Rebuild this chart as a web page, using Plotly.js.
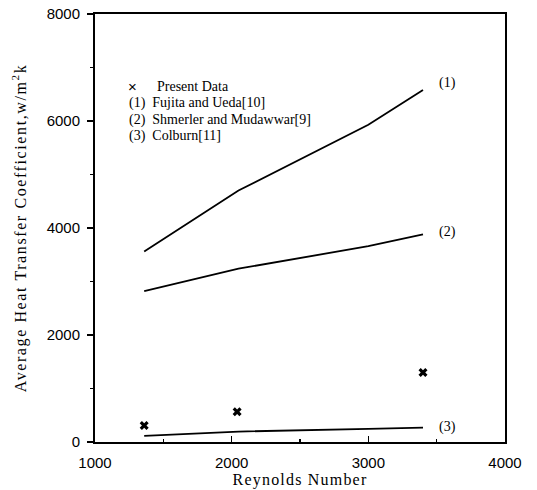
<!DOCTYPE html>
<html>
<head>
<meta charset="utf-8">
<script src="https://cdn.plot.ly/plotly-3.0.1.min.js"></script>
<style>
html,body{margin:0;padding:0;background:#fff;}
#chart{width:537px;height:490px;}
#chart .xtitle{letter-spacing:1.2px;}
#chart .ytitle{letter-spacing:1.6px;}
</style>
</head>
<body>
<div id="chart"></div>
<script>
// Present data (measured)
const reData = [1360, 2040, 3400];
const hData = [310, 565, 1300];

// (1) Fujita and Ueda[10]
const re1 = [1360, 2050, 3000, 3400];
const h1 = [3560, 4700, 5930, 6580];

// (2) Shmerler and Mudawwar[9]
const re2 = [1360, 2050, 3000, 3400];
const h2 = [2820, 3240, 3660, 3880];

// (3) Colburn[11]
const re3 = [1360, 2050, 3000, 3400];
const h3 = [115, 195, 245, 270];

const curveLabels = ['(1)', '(2)', '(3)'];
const curveLabelY = [6710, 3925, 280];

const legendTexts = ['(1)  Fujita and Ueda[10]', '(2)  Shmerler and Mudawwar[9]', '(3)  Colburn[11]'];
const legendY = [6336, 6019, 5720];

const serif = 'Liberation Serif, Times New Roman, serif';
const sans = 'Liberation Sans, Arial, sans-serif';

const lineStyle = {color: '#000', width: 1.8};
const traces = [
  {x: re1, y: h1, mode: 'lines', line: lineStyle, name: '(1)', showlegend: false},
  {x: re2, y: h2, mode: 'lines', line: lineStyle, name: '(2)', showlegend: false},
  {x: re3, y: h3, mode: 'lines', line: lineStyle, name: '(3)', showlegend: false},
  {x: reData, y: hData, mode: 'markers', name: 'Present Data', showlegend: false,
   marker: {symbol: 'x', size: 8, color: '#000', line: {width: 0}}}
];

const annotations = [];
curveLabels.forEach((t, i) => annotations.push({
  x: 3500, y: curveLabelY[i], xref: 'x', yref: 'y', text: t, showarrow: false,
  xanchor: 'left', yanchor: 'middle', font: {family: serif, size: 14, color: '#000'}
}));
annotations.push({x: 1278, y: 6636, xref: 'x', yref: 'y', text: '×', showarrow: false,
  xanchor: 'center', yanchor: 'middle', font: {family: sans, size: 15, color: '#000'}});
annotations.push({x: 1439, y: 6636, xref: 'x', yref: 'y', text: 'Present Data', showarrow: false,
  xanchor: 'left', yanchor: 'middle', font: {family: serif, size: 14, color: '#000'}});
legendTexts.forEach((t, i) => annotations.push({
  x: 1234, y: legendY[i], xref: 'x', yref: 'y', text: t, showarrow: false,
  xanchor: 'left', yanchor: 'middle', font: {family: serif, size: 14, color: '#000'}
}));

const layout = {
  width: 537, height: 490,
  margin: {l: 95, r: 32, t: 14, b: 48},
  paper_bgcolor: '#fff', plot_bgcolor: '#fff',
  showlegend: false,
  xaxis: {
    range: [1000, 4000], tick0: 1000, dtick: 1000,
    ticks: 'inside', ticklen: 6, tickwidth: 1.5, tickcolor: '#000',
    minor: {dtick: 500, ticks: 'inside', ticklen: 3, tickwidth: 1.5, tickcolor: '#000'},
    showline: true, linewidth: 2, linecolor: '#000', mirror: true,
    showgrid: false, zeroline: false,
    ticklabelstandoff: 6,
    tickfont: {family: sans, size: 15, color: '#000'},
    title: {text: 'Reynolds Number', font: {family: serif, size: 16, color: '#000'}, standoff: 1}
  },
  yaxis: {
    range: [0, 8000], tick0: 0, dtick: 2000,
    ticks: 'outside', ticklen: 6, tickwidth: 1.5, tickcolor: '#000',
    minor: {dtick: 1000, ticks: 'outside', ticklen: 3, tickwidth: 1.5, tickcolor: '#000'},
    showline: true, linewidth: 2, linecolor: '#000', mirror: true,
    showgrid: false, zeroline: false,
    ticklabelstandoff: 4,
    tickfont: {family: sans, size: 15, color: '#000'},
    title: {text: 'Average Heat Transfer Coefficient,w/m<sup>2</sup>k', font: {family: serif, size: 16, color: '#000'}, standoff: 16}
  },
  annotations: annotations
};

Plotly.newPlot('chart', traces, layout, {displayModeBar: false, staticPlot: true});
</script>
</body>
</html>
